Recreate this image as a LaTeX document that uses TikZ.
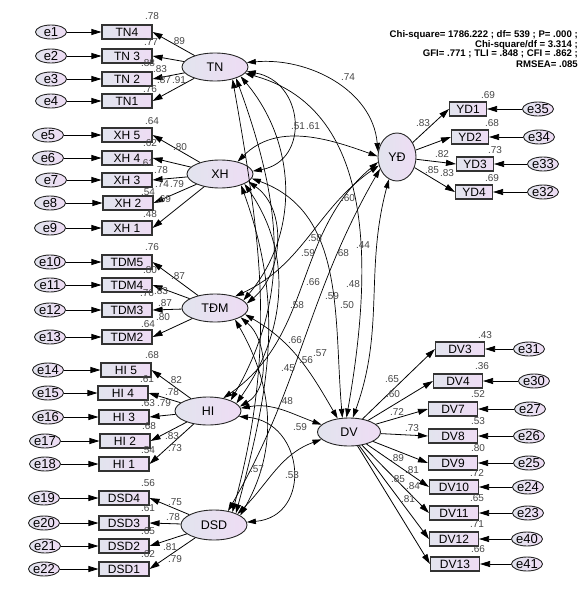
\documentclass[tikz,border=0pt]{standalone}
\usepackage{fontspec}
\setmainfont{Liberation Sans}
\usetikzlibrary{shapes.geometric,arrows.meta}
\definecolor{bL}{RGB}{226,228,238}
\definecolor{bR}{RGB}{238,220,244}
\definecolor{labc}{RGB}{70,70,70}
\newcommand{\fsz}[1]{\fontsize{#1}{#1}\selectfont}
\begin{document}
\begin{tikzpicture}[x=1pt,y=1pt,
  err/.style={ellipse, draw=black!85, line width=0.9pt, minimum width=31pt, minimum height=14pt, inner sep=0pt, left color=bL, right color=bR, font=\fsz{13}},
  ind/.style={rectangle, draw=black!80, line width=1.1pt, minimum width=50pt, minimum height=14pt, inner sep=0pt, left color=bL, right color=bR, font=\fsz{12}},
  lat/.style={ellipse, draw=black!85, line width=0.9pt, minimum width=66pt, minimum height=28pt, inner sep=0pt, left color=bL, right color=bR, font=\fsz{12.5}},
  num/.style={font=\fsz{10}, text=labc, inner sep=0pt},
  fit/.style={font=\bfseries\fsz{9.6}, inner sep=0pt, anchor=east},
  reg/.style={-{Triangle[length=10pt,width=6pt]}, line width=0.8pt},
  cov/.style={{Triangle[length=9pt,width=5.5pt]}-{Triangle[length=9pt,width=5.5pt]}, line width=0.7pt}]
\useasboundingbox (0,0) rectangle (587,-594);
% latent variables
\node[lat] (TN) at (215,-67) {TN};
\node[lat] (XH) at (220,-174) {XH};
\node[lat] (TDMl) at (215,-308) {TĐM};
\node[lat] (HIl) at (208,-411) {HI};
\node[lat, minimum height=30pt] (DSDl) at (214,-525) {DSD};
\node[lat, minimum width=38pt, minimum height=48pt] (YDl) at (397,-157) {YĐ};
\node[lat, minimum width=63pt] (DVl) at (349,-432) {DV};
% left indicators
\foreach \n/\t/\x/\y/\ex/\e in {TN4/TN4/127/32/51/e1, TN3/TN 3/127/56/51/e2, TN2/TN 2/127/79/51/e3, TN1/TN1/127/101/51/e4,
  XH5/XH 5/127/135/48/e5, XH4/XH 4/127/158/48/e6, XH3/XH 3/127/180/51/e7, XH2/XH 2/128/203/50/e8, XH1/XH 1/127/228/50/e9,
  TDM5/TDM5/127/262/50/e10, TDM4/TDM4/127/285/50/e11, TDM3/TDM3/127/310/50/e12, TDM2/TDM2/127/337/50/e13,
  HI5/HI 5/126/370/48/e14, HI4/HI 4/123/393/48/e15, HI3/HI 3/124/417/48/e16, HI2/HI 2/125/441/45/e17, HI1/HI 1/124/464/45/e18,
  DSD4/DSD4/124/498/44/e19, DSD3/DSD3/124/523/44/e20, DSD2/DSD2/124/546/45/e21, DSD1/DSD1/124/569/44/e22}
{
  \node[ind] (\n) at (\x,-\y) {\t};
  \node[err] (\e) at (\ex,-\y) {\e};
  \draw[reg] (\e) -- (\n);
}
% right indicators
\foreach \n/\x/\y/\ex/\e/\w in {YD1/468/109/538/e35/37, YD2/470/137/539/e34/37, YD3/475/164/543/e33/37, YD4/474/192/543/e32/37,
  DV3/460/349/529/e31/49, DV4/458/381/534/e30/49, DV7/453/409/530/e27/49, DV8/453/436/529/e26/49, DV9/453/463/529/e25/49,
  DV10/454/487/528/e24/49, DV11/454/513/528/e23/49, DV12/454/539/527/e40/49, DV13/455/564/527/e41/49}
{
  \node[ind, minimum width=\w pt] (\n) at (\x,-\y) {\n};
  \node[err] (\e) at (\ex,-\y) {\e};
  \draw[reg] (\e) -- (\n);
}
% loadings
\foreach \b in {TN4,TN3,TN2,TN1} \draw[reg] (TN) -- (\b.east);
\foreach \b in {XH5,XH4,XH3,XH2,XH1} \draw[reg] (XH) -- (\b.east);
\foreach \b in {TDM5,TDM4,TDM3,TDM2} \draw[reg] (TDMl) -- (\b.east);
\foreach \b in {HI5,HI4,HI3,HI2,HI1} \draw[reg] (HIl) -- (\b.east);
\foreach \b in {DSD4,DSD3,DSD2,DSD1} \draw[reg] (DSDl) -- (\b.east);
\foreach \b in {YD1,YD2,YD3,YD4} \draw[reg] (YDl) -- (\b.west);
\foreach \b in {DV3,DV4,DV7,DV8,DV9,DV10,DV11,DV12,DV13} \draw[reg] (DVl) -- (\b.west);
% covariances
\draw[cov] (TN.-8) to[out=-10,in=10,looseness=1.5] (XH.5);
\draw[cov] (TN.8) to[out=5,in=95] (YDl.165);
\draw[cov] (XH.35) to[out=45,in=160] (YDl.178);
\draw[cov] (TN.-20) to[out=-50,in=50] (TDMl.15);
\draw[cov] (TN.-28) to[out=-70,in=60] (HIl.25);
\draw[cov] (TN.-35) to[out=-80,in=75] (DSDl.35);
\draw[cov] (TN.-12) to[out=-15,in=80] (DVl.100);
\draw[cov] (XH.-15) to[out=-35,in=40] (TDMl.8);
\draw[cov] (XH.-22) to[out=-55,in=55] (HIl.15);
\draw[cov] (XH.-28) to[out=-70,in=75] (DSDl.28);
\draw[cov] (XH.-8) to[out=-20,in=95] (DVl.115);
\draw[cov] (YDl.-155) to[out=-145,in=25] (TDMl.30);
\draw[cov] (YDl.-165) to[out=-140,in=35] (HIl.40);
\draw[cov] (YDl.-145) to[out=-120,in=60] (DSDl.45);
\draw[cov] (YDl.-110) to[out=-105,in=70] (DVl.75);
\draw[cov] (TDMl.-20) to[out=-40,in=30] (HIl.8);
\draw[cov] (TDMl.-30) to[out=-60,in=60] (DSDl.20);
\draw[cov] (TDMl.-12) to[out=-30,in=120] (DVl.130);
\draw[cov] (HIl.-10) to[out=-5,in=5,looseness=1.6] (DSDl.5);
\draw[cov] (HIl.5) to[out=10,in=160] (DVl.165);
\draw[cov] (DSDl.25) to[out=45,in=-160] (DVl.-165);
% numeric labels
\foreach \t/\x/\y [count=\i] in {.78/152/16, .77/151/42, .89/178/41, .88/148/63, .83/160/69, .87/164/80, .91/179/80, .76/150/89,
  .64/152/121, .80/180/147, .62/150/143, .61/147/163, .78/161/170, .74/162/184, .79/177/184, .54/148/192, .69/164/199, .48/150/214,
  .76/152/247, .87/178/276, .80/150/270, .76/147/293, .83/161/291, .87/165/303, .80/163/317, .64/148/324,
  .68/152/355, .82/175/380, .61/147/379, .78/172/392, .63/148/403, .79/164/403, .68/149/426, .83/172/436, .54/148/450, .73/175/448, .56/148/483,
  .75/175/502, .61/148/508, .78/173/517, .65/148/531, .81/170/547, .62/148/554, .79/175/559,
  .69/488/95, .68/492/123, .73/495/150, .69/492/178, .83/423/123, .82/442/154, .85/432/170, .83/447/173,
  .43/485/335, .36/482/366, .52/478/394, .53/478/421, .80/478/448, .72/477/473, .65/477/498, .71/477/524, .66/478/549,
  .65/392/379, .60/393/394, .72/397/412, .73/412/428, .89/397/458, .81/412/470, .85/398/479, .84/413/486, .81/408/499,
  .74/348/77, .51/298/126, .61/313/126, .60/348/198, .58/315/238, .59/308/253, .68/342/253, .44/363/245, .66/313/282, .48/353/284,
  .59/332/296, .50/347/305, .58/297/305, .66/295/340, .56/306/360, .57/320/353, .45/288/368, .48/286/401, .59/300/427, .57/257/469, .53/292/475}
  \node[num] (n\i) at (\x,-\y) {\t};
% fit indices
\node[fit] (f1) at (578,-35) {Chi-square= 1786.222 ; df= 539 ; P= .000 ;};
\node[fit] (f2) at (578,-45) {Chi-square/df = 3.314 ;};
\node[fit] (f3) at (578,-54) {GFI= .771 ; TLI = .848 ; CFI = .862 ;};
\node[fit] (f4) at (578,-64) {RMSEA= .085};
\end{tikzpicture}
\end{document}
